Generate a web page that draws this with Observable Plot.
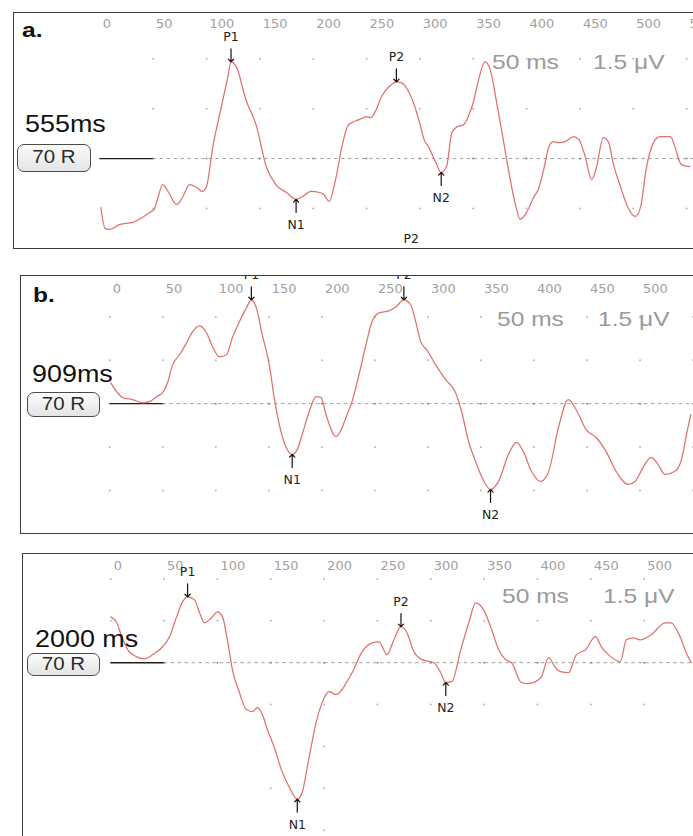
<!DOCTYPE html>
<html><head><meta charset="utf-8">
<script src="https://cdn.jsdelivr.net/npm/d3@7"></script>
<script src="https://cdn.jsdelivr.net/npm/@observablehq/plot@0.6"></script>
<style>
html,body{margin:0;padding:0;background:#fff;overflow:hidden;width:693px;height:836px;}
body{position:relative;font-family:"Liberation Sans",Arial,sans-serif;}
.panel{position:absolute;border:1.5px solid #3c3c3c;box-sizing:border-box;overflow:hidden;background:#fff;width:720px;}
.panel svg{position:absolute;left:0;top:0;}
.t{position:absolute;white-space:nowrap;line-height:1;transform-origin:0 0;transform:scaleX(1.17);}
.letter{font-weight:bold;font-size:21px;color:#111;}
.isi{font-size:23px;color:#111;}
.scale{font-size:21px;color:#9a9a9a;}
.box{position:absolute;box-sizing:border-box;border:1.5px solid #4a4a4a;border-radius:7px;background:linear-gradient(#fbfbfb,#e4e4e4);}
.box span{position:absolute;left:0;right:0;top:50%;text-align:center;font-size:17.5px;line-height:1;color:#2a2a2a;transform:translateY(-50%) scaleX(1.17);}
</style></head>
<body>
<script>
// ---- data ----
const xTicks = [0, 50, 100, 150, 200, 250, 300, 350, 400, 450, 500, 550];
const isiLabels = ["555ms", "909ms", "2000 ms"];
const panelLetters = ["a.", "b.", ""];
const levelLabel = "70 R";
const scaleLabels = ["50 ms", "1.5 \u03bcV"];

// Panel a (555 ms)
const tA = [1,5,9,19,31,40,47,51,54,59,64,72,78,84,91,96,100,106,114,120,123,128,137,147,156,165,175,184,190,198,206,210,215,221,227,232,236,243,250,254,259,264,271,278,283,290,294,299,304,308,315,320,325,330,335,341,346,350,355,361,366,371,377,383,390,394,400,407,411,416,421,425,430,436,444,449,455,461,465,472,477,481,488,495,502,507,512,519,525,535,539,545,553];
const vA = [-1.47,-2.1,-2.13,-1.98,-1.92,-1.77,-1.62,-1.53,-1.23,-0.78,-0.99,-1.38,-1.14,-0.78,-0.87,-0.99,-0.84,0.36,1.56,2.46,2.91,2.76,1.77,0.96,-0.24,-0.78,-1.02,-1.23,-1.14,-0.99,-1.02,-1.08,-1.29,-0.63,0.36,0.96,1.08,1.17,1.26,1.23,1.47,1.86,2.16,2.31,2.28,1.98,1.68,1.17,0.57,0.36,-0.12,-0.42,-0.24,0.78,0.96,1.02,1.32,1.68,2.37,2.91,2.67,1.86,0.78,-0.33,-1.44,-1.83,-1.62,-1.14,-0.93,-0.33,0.36,0.51,0.48,0.51,0.66,0.57,0.06,-0.63,-0.33,0.63,0.48,-0.12,-0.84,-1.47,-1.74,-1.44,-0.33,0.48,0.66,0.66,0.36,-0.18,-0.24];
const peakNamesA = ["P1", "N1", "P2", "N2"];
const peakTimesA = [123, 184, 278, 320];
const strayNamesA = ["P2"];
const strayTimesA = [292];
const strayValuesA = [-2.43];

// Panel b (909 ms)
const tB = [0.9,6.6,12.2,21.6,31,37.6,44.2,49.8,54.5,59.2,65.8,72.4,78,84.6,91.2,96.8,103.4,110,115.6,122.2,128.8,133.5,138.2,143.8,150.4,155.1,159.8,166.4,172,176.7,181.4,188,194.5,199.2,203.9,213.3,219,222.7,228.4,235,241.5,247.2,253.8,263.2,269.7,277.3,283.8,288.5,293.2,298.9,307.3,316.7,326.1,331.8,338.3,344.9,350.6,359,366.5,375.9,383.5,390,397.6,406,413.5,423,432.3,439.8,449.2,458.6,468,477.4,488.7,495.3,502.8,510.3,516.9,523.5,532.9,538.5,545.1,547.9];
const vB = [0.72,0.41,0.21,0.14,0.03,0.07,0.24,0.38,0.72,1.34,1.69,2.10,2.48,2.69,2.45,1.97,1.62,1.69,2.28,2.83,3.31,3.59,3.31,2.38,1.34,0.21,-0.72,-1.52,-1.76,-1.59,-1.07,-0.28,0.24,0.21,-0.38,-1.14,-0.83,-0.48,0.07,1.0,2.03,2.83,3.14,3.21,3.34,3.59,3.41,2.83,2.14,1.86,1.34,0.83,0.38,-0.28,-1.31,-2.0,-2.52,-2.97,-2.69,-1.76,-1.34,-1.66,-2.34,-2.69,-2.38,-0.83,0.14,-0.21,-0.9,-1.17,-1.66,-2.34,-2.79,-2.69,-2.21,-1.86,-2.10,-2.45,-2.34,-2.0,-0.83,-0.38];
const peakNamesB = ["P1", "N1", "P2", "N2"];
const peakTimesB = [133.5, 172, 277.3, 359];

// Panel c (2000 ms)
const tC = [0,5.6,10.3,15.9,24.3,31.8,39.3,48.6,55.1,61.7,67.3,72,78.5,83.2,87.9,94.4,100,104.7,109.3,114,120.6,127.1,132.7,137.4,142.1,146.7,153.3,159.8,167.3,174.8,179.4,186,192.5,198.1,204.7,211.2,216.8,222.4,226.2,235.5,244.9,251.4,258.9,265.4,272,277.6,284.1,291.6,302.8,309.3,314,319.6,328,335.5,342,349.5,357,363.6,370.1,375.7,384.1,389.7,398.1,403.7,410.3,416.8,421.5,429,436.4,444.9,454.2,459.8,466.4,477.6,483.2,489.7,496.3,506.5,519.6,525.2,533.6,539.3,544];
const vC = [1.64,1.43,0.93,0.46,0.21,0.14,0.29,0.57,0.93,1.64,2.18,2.36,2.25,1.79,1.43,1.61,1.82,1.64,0.82,-0.25,-1.07,-1.68,-1.75,-1.61,-1.86,-2.39,-3.04,-3.82,-4.46,-4.89,-4.64,-3.36,-2.14,-1.43,-1.04,-1.14,-0.96,-0.61,-0.36,0.39,0.71,0.75,0.29,0.82,1.29,1.07,0.39,0.11,0,-0.36,-0.71,-0.68,0.46,1.43,2.14,1.89,1.18,0.46,0.11,0,-0.68,-0.75,-0.68,-0.5,0.18,-0.18,-0.32,-0.36,0.29,0.46,0.93,0.57,0.29,0.04,0.82,0.89,0.82,1.0,1.43,1.43,0.93,0.36,0];
const peakNamesC = ["P1", "N1", "P2", "N2"];
const peakTimesC = [72, 174.8, 272, 314];

// grid dots (ms, µV): rows and the columns they appear in
const gridA = [{v: 3, cols: [50,100,150,200,250,300,350,400,450,500,550]}, {v: 1.5, cols: [50,100,150,200,250,300,350,400,450,500,550]}, {v: 0, cols: [50,100,150,200,250,300,350,400,450,500,550]}, {v: -1.5, cols: [50,100,150,200,250,300,350,400,450,500,550]}];
const gridB = [{v: 3, cols: xTicks}, {v: 1.5, cols: xTicks}, {v: 0, cols: [50,100,150,200,250,300,350,400,450,500,550]}, {v: -1.5, cols: xTicks}, {v: -3, cols: xTicks}];
const gridC = [{v: 3, cols: xTicks}, {v: 1.5, cols: xTicks}, {v: 0, cols: [50,100,150,200,250,300,350,400,450,500,550]}, {v: -1.5, cols: [150,200,250,300,350,400,450,500,550]}, {v: -3, cols: [200]}, {v: -4.5, cols: [150,200]}, {v: -6, cols: [200]}];

// ---- layout (page px) ----
const panels = [
  {left: 13, top: 12, h: 237, xr: [85.5, 674], yd: [-3, 3], yr: [245.5, 45.5], mt: 15,
   t: tA, v: vA, pn: peakNamesA, pt: peakTimesA, grid: gridA,
   stray: strayNamesA.map((n, i) => ({name: n, t: strayTimesA[i], v: strayValuesA[i]})),
   letter: {x: 22, y: 19}, isi: {x: 25, y: 112.5}, box: {x: 17, y: 144, w: 74, h: 28},
   scale: [{x: 492, y: 51}, {x: 593, y: 51}]},
  {left: 20, top: 275, h: 259, xr: [88.5, 673.5], yd: [-3, 3], yr: [214.5, 40.5], mt: 17,
   t: tB, v: vB, pn: peakNamesB, pt: peakTimesB, grid: gridB, stray: [],
   letter: {x: 33, y: 284}, isi: {x: 32, y: 362.5}, box: {x: 27, y: 392, w: 73, h: 25},
   scale: [{x: 497, y: 308}, {x: 598, y: 308}]},
  {left: 22, top: 553, h: 300, xr: [87.5, 676], yd: [-6, 3], yr: [276.5, 24.5], mt: 16,
   t: tC, v: vC, pn: peakNamesC, pt: peakTimesC, grid: gridC, stray: [],
   letter: {x: 0, y: 0}, isi: {x: 35, y: 627.5}, box: {x: 27, y: 653, w: 73, h: 23},
   scale: [{x: 502, y: 585}, {x: 603, y: 585}]}
];

function addText(cls, txt, x, y) {
  const d = document.createElement("div");
  d.className = "t " + cls;
  d.textContent = txt;
  d.style.left = x + "px";
  d.style.top = y + "px";
  document.body.appendChild(d);
}

panels.forEach((p, k) => {
  const trace = p.t.map((t, i) => ({t, v: p.v[i]}));
  const nearest = (t) => trace.reduce((a, b) => Math.abs(b.t - t) < Math.abs(a.t - t) ? b : a);
  const peaks = p.pn.map((name, i) => {
    const s = nearest(p.pt[i]);
    return {name, t: s.t, v: s.v, up: name[0] === "P"};
  });
  const dots = p.grid.flatMap(r => r.cols.map(c => ({t: c, v: r.v, base: r.v === 0})));
  const base = [{y: 0, x1: 0, x2: 50}];
  const dash = [{y: 0, x1: 50, x2: 620}];

  const div = document.createElement("div");
  div.className = "panel";
  div.style.left = p.left + "px";
  div.style.top = p.top + "px";
  div.style.height = p.h + "px";
  document.body.appendChild(div);

  const svg = Plot.plot({
    width: 720, height: p.h,
    marginTop: p.mt, marginLeft: 0, marginRight: 0, marginBottom: 0,
    x: {domain: [0, 550], range: p.xr, axis: null},
    y: {domain: p.yd, range: p.yr, axis: null},
    style: {background: "transparent", fontFamily: "DejaVu Sans", fontSize: "12.5px"},
    marks: [
      Plot.axisX({anchor: "top", ticks: xTicks, tickSize: 0, tickPadding: 0, textAnchor: "start", dx: 3,
        color: "#a0a0a0", fontSize: 13, tickFormat: d => String(d)}),
      Plot.ruleY(dash, {y: "y", x1: "x1", x2: "x2", stroke: "#a0a0a0", strokeWidth: 1, strokeDasharray: "3.5,3.5"}),
      Plot.dot(dots, {x: "t", y: "v", r: 1, fill: d => d.base ? "#8a8a8a" : "#b5b5b5", stroke: null}),
      Plot.ruleY(base, {y: "y", x1: "x1", x2: "x2", stroke: "#1e1e1e", strokeWidth: 1.4}),
      Plot.line(trace, {x: "t", y: "v", stroke: "#e0716c", strokeWidth: 1.25, curve: "monotone-x"}),
      Plot.vector(peaks, {x: "t", y: "v", length: 13, rotate: d => d.up ? 180 : 0, anchor: "end",
        stroke: "#111", strokeWidth: 1.2}),
      Plot.text(peaks, {x: "t", y: "v", text: "name", fill: "#222", fontSize: 12.5,
        filter: d => d.up, dy: -25}),
      Plot.text(peaks, {x: "t", y: "v", text: "name", fill: "#222", fontSize: 12.5,
        filter: d => !d.up, dy: 26}),
      Plot.text(p.stray, {x: "t", y: "v", text: "name", fill: "#222", fontSize: 12.5})
    ]
  });
  div.appendChild(svg);

  if (panelLetters[k]) addText("letter", panelLetters[k], p.letter.x, p.letter.y);
  addText("isi", isiLabels[k], p.isi.x, p.isi.y);
  const b = document.createElement("div");
  b.className = "box";
  b.style.left = p.box.x + "px"; b.style.top = p.box.y + "px";
  b.style.width = p.box.w + "px"; b.style.height = p.box.h + "px";
  const sp = document.createElement("span");
  sp.textContent = levelLabel;
  b.appendChild(sp);
  document.body.appendChild(b);
  scaleLabels.forEach((s, i) => addText("scale", s, p.scale[i].x, p.scale[i].y));
});
</script>
</body></html>
